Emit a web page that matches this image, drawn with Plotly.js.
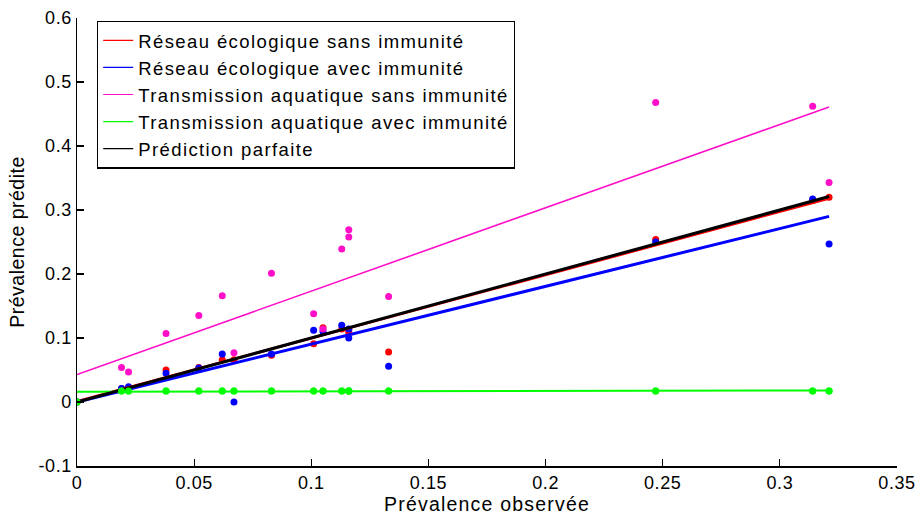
<!DOCTYPE html>
<html>
<head>
<meta charset="utf-8">
<script src="https://cdn.plot.ly/plotly-3.0.1.min.js"></script>
<style>
html,body{margin:0;padding:0;background:#fff;}
#chart{width:918px;height:516px;}
.legendtext{letter-spacing:1.4px;}
.xtitle{letter-spacing:1.2px;}
.ytitle{letter-spacing:0.5px;}
.xtick text,.ytick text{letter-spacing:0.6px;}
</style>
</head>
<body>
<div id="chart"></div>
<script>
// Observed prevalence (x) for each site
var observed = [0, 0.019, 0.022, 0.038, 0.052, 0.062, 0.067, 0.083, 0.101, 0.105, 0.113, 0.116, 0.116, 0.133, 0.247, 0.314, 0.321];
// Predicted prevalence by model
var ecoSansImm = [0, 0.021, 0.022, 0.050, 0.054, 0.066, 0.066, 0.073, 0.091, 0.116, 0.114, 0.109, 0.113, 0.078, 0.254, 0.315, 0.320];
var ecoAvecImm = [0, 0.021, 0.024, 0.045, 0.053, 0.075, 0.0, 0.075, 0.112, 0.110, 0.120, 0.114, 0.100, 0.056, 0.250, 0.317, 0.247];
var aquaSansImm = [0, 0.054, 0.047, 0.107, 0.135, 0.166, 0.077, 0.201, 0.138, 0.114, 0.239, 0.269, 0.258, 0.165, 0.468, 0.462, 0.343];
var aquaAvecImm = [0, 0.017, 0.017, 0.017, 0.017, 0.017, 0.017, 0.017, 0.017, 0.017, 0.017, 0.017, 0.017, 0.017, 0.017, 0.017, 0.017];
// Fitted lines (end points)
var fitX = [0, 0.321];
var fitEcoSans = [0.001, 0.318];
var fitEcoAvec = [0.0, 0.290];
var fitAquaSans = [0.043, 0.461];
var fitAquaAvec = [0.016, 0.018];
var perfectY = [0, 0.321];
// Labels
var seriesNames = ["Réseau écologique sans immunité", "Réseau écologique avec immunité", "Transmission aquatique sans immunité", "Transmission aquatique avec immunité", "Prédiction parfaite"];
var xTickVals = [0, 0.05, 0.1, 0.15, 0.2, 0.25, 0.3, 0.35];
var xTickText = ["0", "0.05", "0.1", "0.15", "0.2", "0.25", "0.3", "0.35"];
var yTickVals = [-0.1, 0, 0.1, 0.2, 0.3, 0.4, 0.5, 0.6];
var yTickText = ["-0.1", "0", "0.1", "0.2", "0.3", "0.4", "0.5", "0.6"];

var colors = ["#ff0000", "#0000ff", "#ff10c8", "#00ff00", "#000000"];
var seriesY = [ecoSansImm, ecoAvecImm, aquaSansImm, aquaAvecImm];
var fitsY = [fitEcoSans, fitEcoAvec, fitAquaSans, fitAquaAvec, perfectY];
var fitWidths = [2.5, 3, 1.6, 2, 3];

var traces = [];
for (var i = 0; i < 4; i++) {
  traces.push({x: observed, y: seriesY[i], mode: 'markers', type: 'scatter', showlegend: false, hoverinfo: 'skip',
    marker: {color: colors[i], size: 7}});
}
for (var j = 0; j < 5; j++) {
  traces.push({x: fitX, y: fitsY[j], mode: 'lines', type: 'scatter', showlegend: false,
    line: {color: colors[j], width: fitWidths[j]}});
}
traces.push({x: observed, y: aquaAvecImm, mode: 'markers', type: 'scatter', showlegend: false, hoverinfo: 'skip',
  marker: {color: colors[3], size: 7}});
for (var k = 0; k < 5; k++) {
  traces.push({x: [null], y: [null], mode: 'lines', type: 'scatter', name: seriesNames[k],
    line: {color: colors[k], width: 1.2}});
}

var fam = 'Liberation Sans, Arial, sans-serif';
var axisFont = {family: fam, size: 18, color: '#000'};
var layout = {
  width: 918, height: 516,
  margin: {l: 77, r: 21, t: 18, b: 50},
  paper_bgcolor: '#fff', plot_bgcolor: '#fff',
  font: axisFont,
  showlegend: true,
  legend: {x: 0.0244, y: 0.994, xanchor: 'left', yanchor: 'top', bgcolor: '#fff', bordercolor: '#000', borderwidth: 1.2,
    font: {family: fam, size: 18.5, color: '#000'}, itemwidth: 30, tracegroupgap: 0},
  xaxis: {range: [0, 0.35], tickvals: xTickVals, ticktext: xTickText, ticks: 'inside', ticklen: 7, tickwidth: 1.2, tickcolor: '#000',
    showline: true, linecolor: '#000', linewidth: 1.5, showgrid: false, zeroline: false, tickfont: axisFont,
    title: {text: 'Prévalence observée', font: {family: fam, size: 19.5, color: '#000'}, standoff: 2}},
  yaxis: {range: [-0.1, 0.6], tickvals: yTickVals, ticktext: yTickText, ticks: 'inside', ticklen: 7, tickwidth: 1.2, tickcolor: '#000',
    showline: true, linecolor: '#000', linewidth: 1.5, showgrid: false, zeroline: false, tickfont: axisFont,
    title: {text: 'Prévalence prédite', font: {family: fam, size: 19.5, color: '#000'}, standoff: 8}}
};
Plotly.newPlot('chart', traces, layout, {displayModeBar: false, staticPlot: true});
</script>
</body>
</html>
